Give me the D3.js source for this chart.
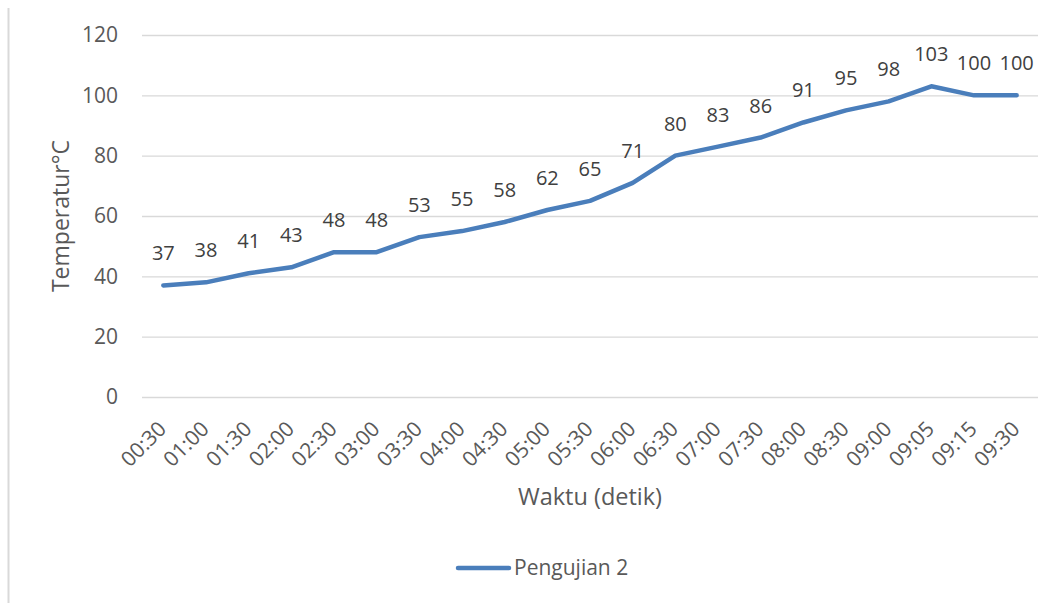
<!DOCTYPE html>
<html lang="en">
<head>
<meta charset="UTF-8">
<script src="https://d3js.org/d3.v7.min.js"></script>
<style>
body { margin: 0; background: white; }
text { font-family: "Open Sans", "Noto Sans", sans-serif; }
</style>
</head>
<body>
<div id="chart"></div>
<script>
// data
var times = ["00:30","01:00","01:30","02:00","02:30","03:00","03:30","04:00","04:30","05:00",
  "05:30","06:00","06:30","07:00","07:30","08:00","08:30","09:00","09:05","09:15","09:30"];
var temps = [37,38,41,43,48,48,53,55,58,62,65,71,80,83,86,91,95,98,103,100,100];
var yTicks = [0,20,40,60,80,100,120];
var seriesName = "Pengujian 2";

var W = 1059, H = 603;
var margin = {top: 35, right: 21, bottom: 206, left: 142};

var svg = d3.select("#chart").append("svg")
  .attr("width", W).attr("height", H);

// chart border (only left edge visible)
svg.append("line")
  .attr("x1", 8.5).attr("x2", 8.5).attr("y1", 8).attr("y2", H)
  .attr("stroke", "#d9d9d9").attr("stroke-width", 2);

var x = d3.scaleBand().domain(times).range([margin.left, W - margin.right]);
var y = d3.scaleLinear().domain([0, 120]).range([H - margin.bottom, margin.top]);

// gridlines
svg.append("g").selectAll("line").data(yTicks).join("line")
  .attr("x1", margin.left).attr("x2", W - margin.right)
  .attr("y1", d => y(d) + 0.5).attr("y2", d => y(d) + 0.5)
  .attr("stroke", "#d9d9d9").attr("stroke-width", 1.3);

// y tick labels
svg.append("g").selectAll("text").data(yTicks).join("text")
  .attr("x", 118).attr("y", d => y(d))
  .attr("dy", "0.35em").attr("text-anchor", "end")
  .attr("font-size", 21).attr("fill", "#595959")
  .text(d => d);

// x tick labels
svg.append("g").selectAll("text").data(times).join("text")
  .attr("transform", d => "translate(" + (x(d) + x.bandwidth() / 2 - 1) + "," + (y(0) + 28) + ") rotate(-45)")
  .attr("dy", "0.35em").attr("text-anchor", "end")
  .attr("font-size", 21).attr("fill", "#595959")
  .text(d => d);

var line = d3.line()
  .x((d, i) => x(times[i]) + x.bandwidth() / 2)
  .y(d => y(d));

svg.append("path").datum(temps)
  .attr("d", line)
  .attr("fill", "none").attr("stroke", "#4a7ebb")
  .attr("stroke-width", 4.5).attr("stroke-linejoin", "round").attr("stroke-linecap", "round");

// data labels
svg.append("g").selectAll("text").data(temps).join("text")
  .attr("x", (d, i) => x(times[i]) + x.bandwidth() / 2)
  .attr("y", d => y(d) - 25)
  .attr("text-anchor", "middle")
  .attr("font-size", 20).attr("fill", "#404040")
  .text(d => d);

// axis titles
svg.append("text")
  .attr("transform", "translate(69," + ((y(0) + y(120)) / 2) + ") rotate(-90)")
  .attr("text-anchor", "middle")
  .attr("font-size", 23).attr("fill", "#595959")
  .text("Temperatur\u00B0C");

svg.append("text")
  .attr("x", (margin.left + W - margin.right) / 2).attr("y", 505)
  .attr("text-anchor", "middle")
  .attr("font-size", 23.5).attr("fill", "#595959")
  .text("Waktu (detik)");

// legend
svg.append("line")
  .attr("x1", 458).attr("x2", 509).attr("y1", 568).attr("y2", 568)
  .attr("stroke", "#4a7ebb").attr("stroke-width", 4.5).attr("stroke-linecap", "round");
svg.append("text")
  .attr("x", 514).attr("y", 568).attr("dy", "0.35em")
  .attr("font-size", 21).attr("fill", "#595959")
  .text(seriesName);
</script>
</body>
</html>
